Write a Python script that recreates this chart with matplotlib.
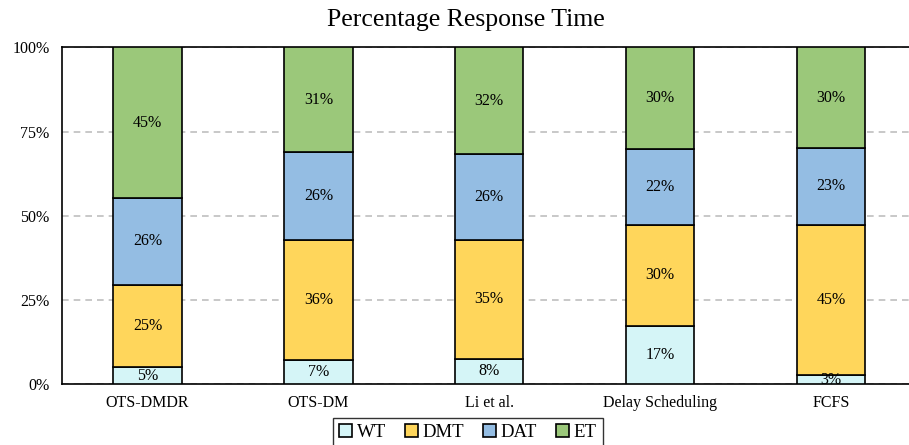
import matplotlib
matplotlib.use("Agg")
import matplotlib.pyplot as plt
import numpy as np

categories = ["OTS-DMDR", "OTS-DM", "Li et al.", "Delay Scheduling", "FCFS"]
series_names = ["WT", "DMT", "DAT", "ET"]
wt = [5.0, 7.2, 7.6, 17.2, 2.7]
dmt = [24.6, 35.7, 35.2, 30.2, 44.6]
dat = [25.7, 25.9, 25.6, 22.3, 22.9]
et = [44.7, 31.2, 31.6, 30.3, 29.8]
colors = ["#D5F5F7", "#FFD65B", "#94BDE3", "#9BC87A"]

plt.rcParams['font.family'] = ['Liberation Serif', 'DejaVu Serif']

fig = plt.figure(figsize=(9.09, 4.45), dpi=100)
ax = fig.add_axes([62/909, 1-384.3/445, (916.5-62)/909, (384.3-47.3)/445])

x = np.arange(len(categories))
bottom = np.zeros(len(categories))
for name, vals, c in zip(series_names, [wt, dmt, dat, et], colors):
    vals = np.array(vals)
    ax.bar(x, vals, 0.4, bottom=bottom, color=c, edgecolor='black', linewidth=1.2, label=name, zorder=3)
    for xi, b, v in zip(x, bottom, vals):
        ax.text(xi, b + v/2, f"{round(v):.0f}%", ha='center', va='center', fontsize=11.5, zorder=4)
    bottom += vals

ax.set_xlim(-0.5, len(categories)-0.5)
ax.set_ylim(0, 100)
ax.set_yticks([0, 25, 50, 75, 100])
ax.set_yticklabels(["0%", "25%", "50%", "75%", "100%"], fontsize=11.5)
ax.set_xticks(x)
ax.set_xticklabels(categories, fontsize=11.5)
ax.tick_params(axis='y', length=0, pad=9)
ax.tick_params(axis='x', length=0, pad=8)
ax.yaxis.grid(True, linestyle=(0, (4, 3)), color='#BFBFBF', linewidth=1.2, zorder=0)
for s in ['left', 'bottom', 'top', 'right']:
    ax.spines[s].set_linewidth(1.2)
    ax.spines[s].set_color('black')

axw = 916.5 - 62
ax.set_title("Percentage Response Time", fontsize=18.5, pad=15, x=(466 - 62) / axw)

leg = ax.legend(loc='upper center', bbox_to_anchor=((468 - 62) / axw, -0.1), ncol=4,
                fontsize=13.5, frameon=True, fancybox=False, edgecolor='black',
                handlelength=0.7, handleheight=0.7, handletextpad=0.25, columnspacing=1.0,
                borderpad=0.3, borderaxespad=0)
leg.get_frame().set_linewidth(1.0)

fig.savefig("out.png", dpi=100)
